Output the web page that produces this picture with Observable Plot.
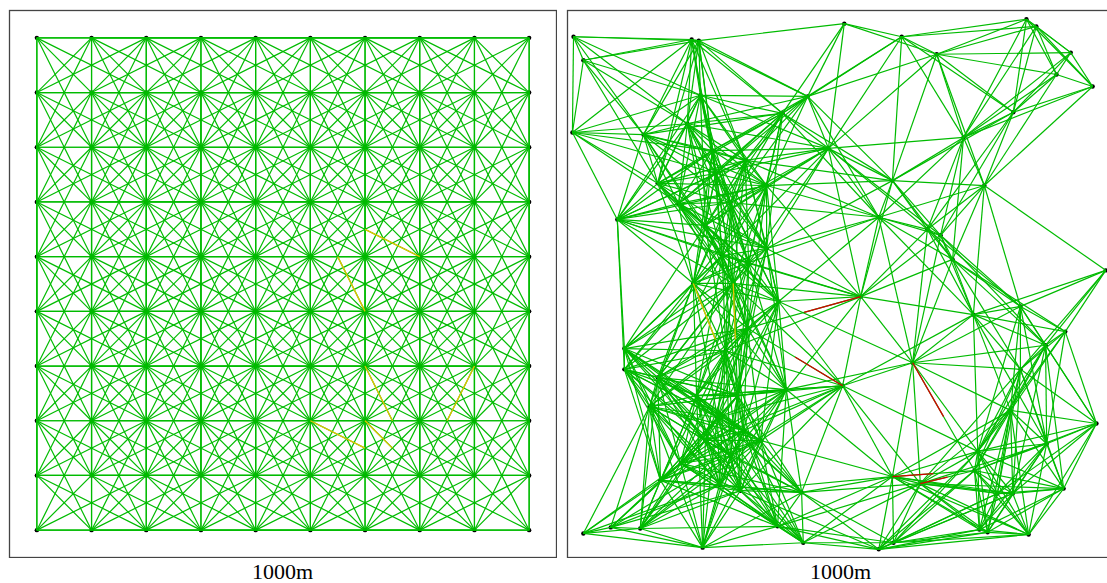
<!DOCTYPE html>
<html>
<head>
<meta charset="utf-8">
<script src="https://cdn.jsdelivr.net/npm/d3@7"></script>
<script src="https://cdn.jsdelivr.net/npm/@observablehq/plot@0.6"></script>
<style>
  html, body { margin: 0; padding: 0; background: #fff; overflow: hidden; }
  #wrap { position: relative; width: 1107px; height: 583px; overflow: hidden; }
  .panel { position: absolute; top: 9px; width: 549px; height: 549px; }
  .panel svg { max-width: none !important; width: 549px; height: 549px; display: block; }
  .lbl { position: absolute; top: 561px; width: 549px; text-align: center;
         font-family: "Liberation Serif", "DejaVu Serif", serif; font-size: 22px; line-height: 22px; color: #000; }
</style>
</head>
<body>
<div id="wrap">
  <div class="panel" id="left" style="left:8px"></div>
  <div class="panel" id="right" style="left:566px"></div>
  <div class="lbl" style="left:8px">1000m</div>
  <div class="lbl" style="left:566px">1000m</div>
</div>
<script>
// ---- Data (metres) ----
const gridCols = [50, 150, 250, 350, 450, 550, 650, 750, 850, 950];
const gridRows = [50, 150, 250, 350, 450, 550, 650, 750, 850, 950];

// random deployment (right panel), node positions
const randX = [11, 29, 227, 240, 9, 439, 139, 165, 364, 477, 219, 203, 298, 252, 91, 230, 303, 331, 364, 386,
               329, 104, 104, 400, 165, 150, 274, 207, 133, 247, 384, 431, 428, 278, 316, 29, 79, 506, 611, 675,
               839, 857, 920, 894, 960, 815, 724, 594, 762, 569, 658, 682, 704, 536, 742, 828, 910, 874, 828, 631,
               503, 984, 594, 645, 750, 744, 810, 967, 907, 876, 843, 768, 753, 569, 596, 786, 814, 393, 271, 322,
               252, 311,
               265, 325, 243, 283, 289, 236, 298, 353, 170];
const randY = [48, 91, 53, 55, 223, 157, 227, 316, 320, 252, 207, 353, 351, 393, 382, 499, 499, 461, 435, 532,
               581, 618, 656, 693, 671, 724, 744, 828, 947, 982, 943, 973, 881, 867, 878, 956, 945, 24, 48, 80,
               16, 29, 77, 117, 139, 186, 232, 311, 320, 378, 400, 411, 455, 523, 556, 541, 587, 612, 656, 644,
               686, 475, 852, 865, 806, 841, 731, 755, 874, 792, 958, 954, 949, 985, 973, 883, 883, 188, 298, 768,
               786, 704,
               256, 274, 155, 448, 622, 704, 814, 786, 859];

const radioRange = 280; // metres

// weak half-links: [node with coloured half, other node, colour]
const gridWeakFrom = [[7,4],[6,5],[6,6],[8,6],[5,7],[6,7]];
const gridWeakTo   = [[5,3],[5,3],[7,8],[7,8],[7,8],[7,8]];
const gridWeakCol  = ["#e6c400","#e6c400","#e6c400","#e6c400","#e6c400","#e6c400"];

const randWeakFrom = [53, 60, 59, 63, 62, 15, 16];
const randWeakTo   = [20, 20, 65, 65, 65, 81, 81];
const randWeakCol  = ["#d40000","#d40000","#d40000","#d40000","#d40000","#e6c400","#e6c400"];

// ---- Build tables ----
const gridNodes = gridRows.flatMap((y, r) => gridCols.map((x, c) => ({x, y, c, r})));
const gridAt = (c, r) => gridNodes[r * gridCols.length + c];
const randNodes = randX.map((x, i) => ({x, y: randY[i]}));

function buildLinks(nodes) {
  const out = [];
  for (let i = 0; i < nodes.length; i++)
    for (let j = i + 1; j < nodes.length; j++) {
      const a = nodes[i], b = nodes[j];
      if (Math.hypot(a.x - b.x, a.y - b.y) <= radioRange)
        out.push({x1: a.x, y1: a.y, x2: b.x, y2: b.y});
    }
  return out;
}
function half(a, b, color) {
  return {x1: a.x, y1: a.y, x2: (a.x + b.x) / 2, y2: (a.y + b.y) / 2, color};
}
const gridWeak = gridWeakFrom.map((f, i) => half(gridAt(f[0], f[1]), gridAt(gridWeakTo[i][0], gridWeakTo[i][1]), gridWeakCol[i]));
const randWeak = randWeakFrom.map((f, i) => half(randNodes[f], randNodes[randWeakTo[i]], randWeakCol[i]));

function panel(nodes, weak) {
  return Plot.plot({
    width: 549, height: 549, margin: 1,
    style: {maxWidth: "none"},
    x: {domain: [0, 1000], axis: null},
    y: {domain: [0, 1000], axis: null, reverse: true},
    color: {type: "identity"},
    marks: [
      Plot.frame({stroke: "#444", strokeWidth: 1.3}),
      Plot.dot(nodes, {x: "x", y: "y", r: 2.2, fill: "#000", stroke: "none"}),
      Plot.link(buildLinks(nodes), {x1: "x1", y1: "y1", x2: "x2", y2: "y2", stroke: "#00bb00", strokeWidth: 1.2}),
      Plot.link(weak, {x1: "x1", y1: "y1", x2: "x2", y2: "y2", stroke: "color", strokeWidth: 1.3})
    ]
  });
}
document.getElementById("left").appendChild(panel(gridNodes, gridWeak));
document.getElementById("right").appendChild(panel(randNodes, randWeak));
</script>
</body>
</html>
